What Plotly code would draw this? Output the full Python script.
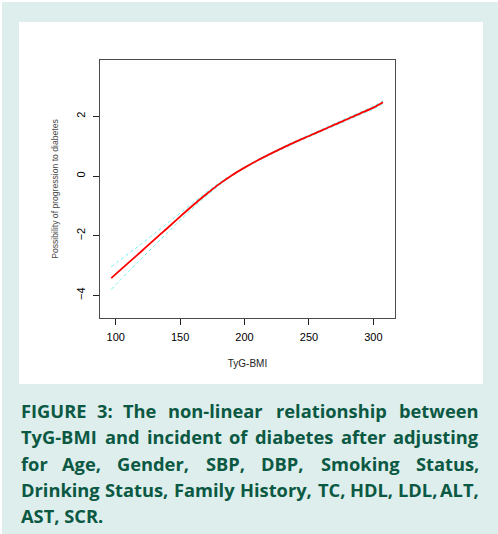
import plotly.graph_objects as go

# ---- data ----
tyg_bmi = [96.5, 110, 120, 130, 140, 150, 160, 170, 180, 190, 200, 210, 220, 230,
           240, 250, 260, 270, 280, 290, 300, 307.5]
log_odds = [-3.42, -2.90, -2.52, -2.13, -1.75, -1.36, -0.98, -0.62, -0.28, 0.02, 0.28,
            0.52, 0.74, 0.95, 1.15, 1.34, 1.53, 1.72, 1.91, 2.10, 2.29, 2.47]
ci_upper = [-3.04, -2.60, -2.27, -1.93, -1.59, -1.24, -0.89, -0.56, -0.24, 0.04, 0.30,
            0.54, 0.76, 0.98, 1.18, 1.37, 1.56, 1.76, 1.95, 2.14, 2.34, 2.52]
ci_lower = [-3.80, -3.20, -2.77, -2.33, -1.91, -1.48, -1.07, -0.68, -0.32, 0.00, 0.26,
            0.50, 0.72, 0.92, 1.12, 1.31, 1.50, 1.68, 1.87, 2.06, 2.24, 2.42]
x_ticks = [100, 150, 200, 250, 300]
y_ticks = [-4, -2, 0, 2]
x_title = "TyG-BMI"
y_title = "Possibility of progression to diabetes"
caption_lines = [
    "FIGURE 3: The non-linear relationship between",
    "TyG-BMI and incident of diabetes after adjusting",
    "for Age, Gender, SBP, DBP, Smoking Status,",
    "Drinking Status, Family History, TC, HDL, LDL, ALT,",
    "AST, SCR.",
]

# ---- layout constants (pixels) ----
W, H = 498, 534
PL, PR, PT, PB = 100, 395, 60, 318
TEAL = "#ddeeec"
CAP_COLOR = "#0b5843"
CAP_SIZE = 18.3

def px_x(px):
    return (px - PL) / (PR - PL)

def px_y(py):
    return (PB - py) / (PB - PT)

fig = go.Figure()
fig.add_trace(go.Scatter(x=tyg_bmi, y=ci_upper, mode="lines", line_shape="spline",
                         line=dict(color="#66f0f0", width=1, dash="dot"),
                         showlegend=False, hoverinfo="skip"))
fig.add_trace(go.Scatter(x=tyg_bmi, y=ci_lower, mode="lines", line_shape="spline",
                         line=dict(color="#66f0f0", width=1, dash="dot"),
                         showlegend=False, hoverinfo="skip"))
fig.add_trace(go.Scatter(x=tyg_bmi, y=log_odds, mode="lines", line_shape="spline",
                         line=dict(color="#ff0000", width=1.8),
                         showlegend=False))

shapes = [
    dict(type="rect", xref="paper", yref="paper", layer="below",
         x0=px_x(19), x1=px_x(483), y0=px_y(22), y1=px_y(384),
         fillcolor="white", line=dict(width=0)),
    dict(type="rect", xref="paper", yref="paper", layer="below",
         x0=px_x(0), x1=px_x(W), y0=px_y(0), y1=px_y(2),
         fillcolor="white", line=dict(width=0)),
    dict(type="rect", xref="paper", yref="paper", layer="below",
         x0=px_x(0), x1=px_x(2), y0=px_y(0), y1=px_y(H),
         fillcolor="white", line=dict(width=0)),
]

# approximate Open Sans Bold advance widths (em) used for justifying the caption
WID = {' ': 0.26, ',': 0.28, '.': 0.28, ':': 0.28, '-': 0.32, '3': 0.57,
       'A': 0.69, 'B': 0.68, 'C': 0.63, 'D': 0.74, 'E': 0.56, 'F': 0.55, 'G': 0.73,
       'H': 0.77, 'I': 0.36, 'L': 0.56, 'M': 0.96, 'P': 0.64, 'R': 0.66, 'S': 0.55,
       'T': 0.58, 'U': 0.75,
       'a': 0.60, 'b': 0.64, 'c': 0.51, 'd': 0.64, 'e': 0.59, 'f': 0.40, 'g': 0.56,
       'h': 0.66, 'i': 0.30, 'j': 0.30, 'k': 0.62, 'l': 0.30, 'm': 0.98, 'n': 0.66,
       'o': 0.62, 'p': 0.64, 'r': 0.45, 's': 0.51, 't': 0.43, 'u': 0.66, 'v': 0.56,
       'w': 0.85, 'y': 0.56}

def wwidth(word):
    return sum(WID.get(c, 0.6) for c in word) * CAP_SIZE * 1.04

cap_font = dict(family="Open Sans", size=CAP_SIZE, color=CAP_COLOR, weight="bold")
annotations = []
CAP_L, CAP_R = 19, 481
line_y = [410, 436.5, 463, 489.5, 515.5]
for i, line in enumerate(caption_lines):
    yv = px_y(line_y[i])
    words = line.split(" ")
    if i == len(caption_lines) - 1:
        annotations.append(dict(text=line, x=px_x(CAP_L), y=yv, xref="paper", yref="paper",
                                xanchor="left", yanchor="middle", showarrow=False,
                                font=cap_font))
        continue
    widths = [wwidth(w) for w in words]
    gap = (CAP_R - CAP_L - sum(widths)) / (len(words) - 1)
    pos = CAP_L
    for j, (w, ww) in enumerate(zip(words, widths)):
        if j == 0:
            xa, xp = "left", pos
        elif j == len(words) - 1:
            xa, xp = "right", CAP_R
        else:
            xa, xp = "center", pos + ww / 2
        annotations.append(dict(text=w, x=px_x(xp), y=yv, xref="paper", yref="paper",
                                xanchor=xa, yanchor="middle", showarrow=False,
                                font=cap_font))
        pos += ww + gap

axis_common = dict(showgrid=False, zeroline=False, showline=True, mirror=True,
                   linecolor="#4a4a4a", linewidth=1.3, ticks="outside", ticklen=6,
                   tickcolor="#222222", tickwidth=1,
                   tickfont=dict(family="Liberation Sans", size=11, color="black"))

fig.update_layout(
    width=W, height=H,
    margin=dict(l=PL, r=W - PR, t=PT, b=H - PB),
    paper_bgcolor=TEAL, plot_bgcolor="white",
    shapes=shapes, annotations=annotations,
    xaxis=dict(range=[87.8, 316.8], tickvals=x_ticks, ticklabelstandoff=3,
               title=dict(text=x_title, standoff=17,
                          font=dict(family="Liberation Sans", size=10, color="#222222")),
               **axis_common),
    yaxis=dict(range=[-4.757, 3.886], tickvals=y_ticks, tickangle=-90, ticklabelstandoff=3,
               title=dict(text=y_title, standoff=15,
                          font=dict(family="Liberation Sans", size=8.6, color="#4d4d4d")),
               **axis_common),
)

fig.write_html("out.html", config={"displayModeBar": False},
               post_script="document.body.style.margin='0';")
